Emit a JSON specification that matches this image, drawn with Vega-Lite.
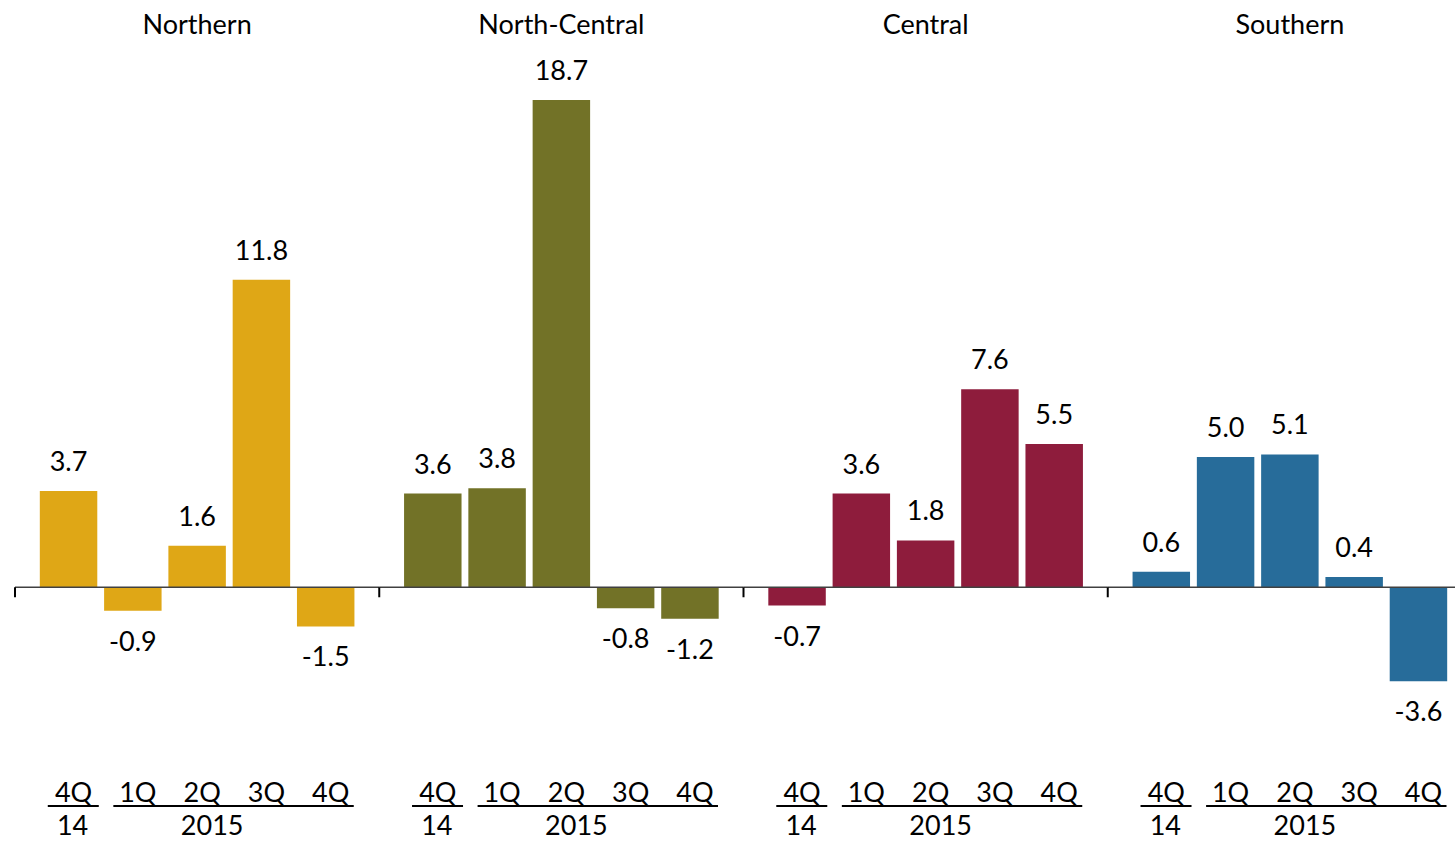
{
  "$schema": "https://vega.github.io/schema/vega-lite/v6.json",
  "width": 1440,
  "height": 769,
  "autosize": "none",
  "padding": {"left": 15, "top": 66, "right": 0, "bottom": 7},
  "background": "white",
  "config": {
    "view": {"stroke": null},
    "font": "Lato",
    "text": {"font": "Lato", "fontSize": 27, "color": "#000000"},
    "locale": {"number": {"decimal": ".", "thousands": ",", "grouping": [3], "currency": ["$", ""], "minus": "-"}}
  },
  "data": {
    "values": [
      {"region": "Northern", "quarter": "4Q14", "qlabel": "4Q", "value": 3.7},
      {"region": "Northern", "quarter": "1Q15", "qlabel": "1Q", "value": -0.9},
      {"region": "Northern", "quarter": "2Q15", "qlabel": "2Q", "value": 1.6},
      {"region": "Northern", "quarter": "3Q15", "qlabel": "3Q", "value": 11.8},
      {"region": "Northern", "quarter": "4Q15", "qlabel": "4Q", "value": -1.5},
      {"region": "North-Central", "quarter": "4Q14", "qlabel": "4Q", "value": 3.6},
      {"region": "North-Central", "quarter": "1Q15", "qlabel": "1Q", "value": 3.8},
      {"region": "North-Central", "quarter": "2Q15", "qlabel": "2Q", "value": 18.7},
      {"region": "North-Central", "quarter": "3Q15", "qlabel": "3Q", "value": -0.8},
      {"region": "North-Central", "quarter": "4Q15", "qlabel": "4Q", "value": -1.2},
      {"region": "Central", "quarter": "4Q14", "qlabel": "4Q", "value": -0.7},
      {"region": "Central", "quarter": "1Q15", "qlabel": "1Q", "value": 3.6},
      {"region": "Central", "quarter": "2Q15", "qlabel": "2Q", "value": 1.8},
      {"region": "Central", "quarter": "3Q15", "qlabel": "3Q", "value": 7.6},
      {"region": "Central", "quarter": "4Q15", "qlabel": "4Q", "value": 5.5},
      {"region": "Southern", "quarter": "4Q14", "qlabel": "4Q", "value": 0.6},
      {"region": "Southern", "quarter": "1Q15", "qlabel": "1Q", "value": 5.0},
      {"region": "Southern", "quarter": "2Q15", "qlabel": "2Q", "value": 5.1},
      {"region": "Southern", "quarter": "3Q15", "qlabel": "3Q", "value": 0.4},
      {"region": "Southern", "quarter": "4Q15", "qlabel": "4Q", "value": -3.6}
    ]
  },
  "encoding": {
    "x": {
      "field": "region",
      "type": "nominal",
      "scale": {"domain": ["Northern", "North-Central", "Central", "Southern"], "range": [0, 1457], "paddingInner": 0, "paddingOuter": 0},
      "axis": {"orient": "top", "title": null, "domain": false, "ticks": false, "labelFont": "Lato", "labelFontSize": 27, "labelColor": "#000000", "labelPadding": 27, "labelAngle": 0}
    }
  },
  "layer": [
    {
      "mark": {"type": "bar"},
      "encoding": {
        "xOffset": {"field": "quarter", "type": "nominal", "sort": ["4Q14", "1Q15", "2Q15", "3Q15", "4Q15"], "scale": {"paddingInner": 0.106, "paddingOuter": 0.386}},
        "y": {"field": "value", "type": "quantitative", "scale": {"domain": [-9.5, 20], "nice": false, "zero": false}, "axis": null},
        "color": {"field": "region", "type": "nominal", "scale": {"domain": ["Northern", "North-Central", "Central", "Southern"], "range": ["#DFA716", "#727227", "#8E1C3C", "#276C9A"]}, "legend": null}
      }
    },
    {
      "transform": [{"filter": "datum.value >= 0"}],
      "mark": {"type": "text", "baseline": "middle", "dy": -28},
      "encoding": {
        "xOffset": {"field": "quarter", "type": "nominal", "sort": ["4Q14", "1Q15", "2Q15", "3Q15", "4Q15"]},
        "y": {"field": "value", "type": "quantitative"},
        "text": {"field": "value", "type": "quantitative", "format": ".1f"}
      }
    },
    {
      "transform": [{"filter": "datum.value < 0"}],
      "mark": {"type": "text", "baseline": "middle", "dy": 32},
      "encoding": {
        "xOffset": {"field": "quarter", "type": "nominal", "sort": ["4Q14", "1Q15", "2Q15", "3Q15", "4Q15"]},
        "y": {"field": "value", "type": "quantitative"},
        "text": {"field": "value", "type": "quantitative", "format": ".1f"}
      }
    },
    {
      "transform": [{"filter": "datum.quarter === '4Q14'"}],
      "mark": {"type": "rule", "color": "#404040", "strokeWidth": 1.5},
      "encoding": {
        "x": {"field": "region", "type": "nominal", "bandPosition": 0},
        "x2": {"field": "region", "bandPosition": 1},
        "y": {"datum": 0}
      }
    },
    {
      "transform": [{"filter": "datum.quarter === '4Q14'"}],
      "mark": {"type": "rule", "color": "#000000", "strokeWidth": 2},
      "encoding": {
        "x": {"field": "region", "type": "nominal", "bandPosition": 0},
        "y": {"datum": 0},
        "y2": {"datum": -0.38}
      }
    },
    {
      "mark": {"type": "text", "baseline": "alphabetic", "dx": 5},
      "encoding": {
        "xOffset": {"field": "quarter", "type": "nominal", "sort": ["4Q14", "1Q15", "2Q15", "3Q15", "4Q15"]},
        "y": {"datum": -8.25},
        "text": {"field": "qlabel"}
      }
    },
    {
      "transform": [{"filter": "datum.quarter === '4Q14'"}],
      "mark": {"type": "rule", "color": "#000000", "strokeWidth": 2},
      "encoding": {
        "x": {"field": "region", "type": "nominal", "bandPosition": 0.09},
        "x2": {"field": "region", "bandPosition": 0.23},
        "y": {"datum": -8.39}
      }
    },
    {
      "transform": [{"filter": "datum.quarter === '1Q15'"}],
      "mark": {"type": "rule", "color": "#000000", "strokeWidth": 2},
      "encoding": {
        "x": {"field": "region", "type": "nominal", "bandPosition": 0.27},
        "x2": {"field": "region", "bandPosition": 0.93},
        "y": {"datum": -8.39}
      }
    },
    {
      "transform": [{"filter": "datum.quarter === '4Q14'"}],
      "mark": {"type": "text", "baseline": "alphabetic", "dx": 4},
      "encoding": {
        "xOffset": {"field": "quarter", "type": "nominal", "sort": ["4Q14", "1Q15", "2Q15", "3Q15", "4Q15"]},
        "y": {"datum": -9.5},
        "text": {"value": "14"}
      }
    },
    {
      "transform": [{"filter": "datum.quarter === '2Q15'"}],
      "mark": {"type": "text", "baseline": "alphabetic", "dx": 15},
      "encoding": {
        "xOffset": {"field": "quarter", "type": "nominal", "sort": ["4Q14", "1Q15", "2Q15", "3Q15", "4Q15"]},
        "y": {"datum": -9.5},
        "text": {"value": "2015"}
      }
    }
  ]
}
